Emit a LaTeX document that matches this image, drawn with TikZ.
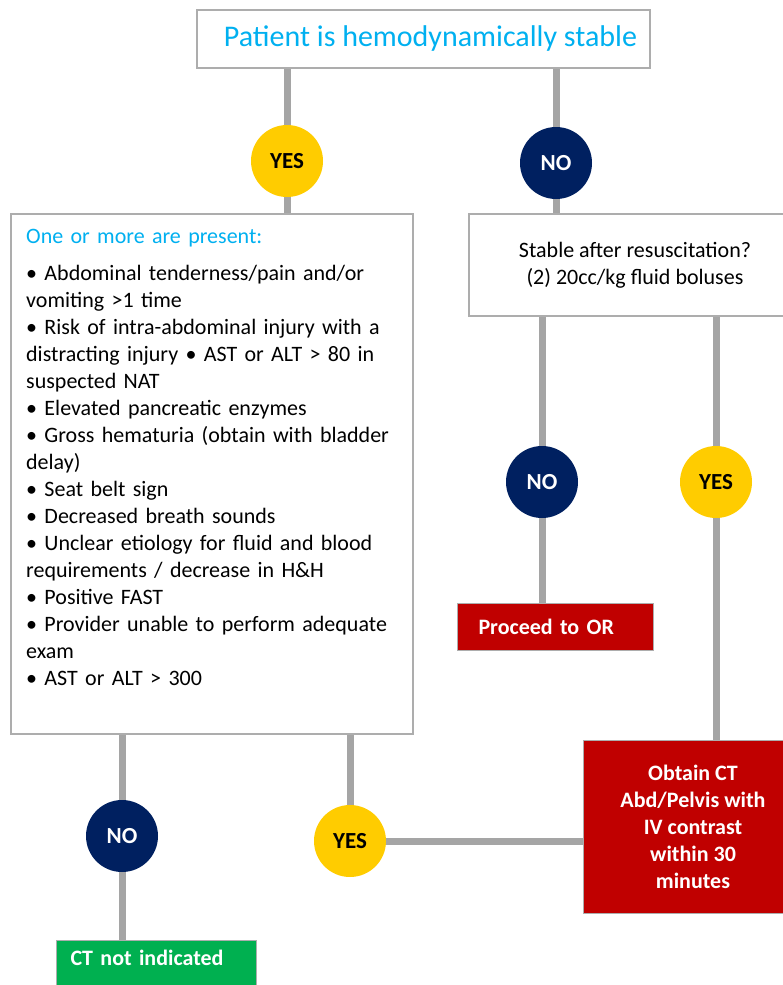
\documentclass[tikz,border=0pt]{standalone}
\usepackage{fontspec}
\setmainfont{Carlito}
\usepackage{tikz}
\usetikzlibrary{backgrounds}
\definecolor{linkgray}{HTML}{A5A5A5}
\definecolor{boxgray}{HTML}{ADADAD}
\definecolor{titlecyan}{HTML}{00B0F0}
\definecolor{yesyellow}{HTML}{FFCC00}
\definecolor{nonavy}{HTML}{002060}
\definecolor{ctred}{HTML}{C00000}
\definecolor{ctgreen}{HTML}{00B050}

\begin{document}
\begin{tikzpicture}[x=1pt,y=-1pt,font=\fontsize{22}{27}\selectfont,
    box/.style={draw=boxgray,line width=1.5pt,fill=white,inner sep=0pt},
    yes/.style={circle,fill=yesyellow,minimum size=72pt,inner sep=0pt,font=\fontsize{23}{27}\selectfont\bfseries},
    no/.style={circle,fill=nonavy,text=white,minimum size=72pt,inner sep=0pt,font=\fontsize{23}{27}\selectfont\bfseries},
    redbox/.style={draw=boxgray,line width=1pt,fill=ctred,text=white,font=\fontsize{22}{27}\selectfont\bfseries},
    link/.style={linkgray,line width=7pt}]
          \useasboundingbox (0,0) rectangle (782,985);
          \node[box,minimum width=453pt,minimum height=58pt,text=titlecyan,font=\fontsize{30}{36}\selectfont] (top) at (423.5,39) {\hspace*{14pt}Patient is hemodynamically stable};
          \node[yes] (yes1) at (287,161) {YES};
          \node[no] (no1) at (556,163) {NO};
          \node[box,minimum width=402pt,minimum height=520pt] (list) at (212,474) {};
          \node[anchor=north west,align=left,text width=385pt,inner sep=0pt] (items) at (26,224) {\textcolor{titlecyan}{\strut One or more are present:}\\[10pt]
            • Abdominal tenderness/pain and/or\\
            vomiting >1 time\\
            • Risk of intra-abdominal injury with a\\
            distracting injury • AST or ALT > 80 in\\
            suspected NAT\\
            • Elevated pancreatic enzymes\\
            • Gross hematuria (obtain with bladder\\
            delay)\\
            • Seat belt sign\\
            • Decreased breath sounds\\
            • Unclear etiology for fluid and blood\\
            requirements / decrease in H\&H\\
            • Positive FAST\\
            • Provider unable to perform adequate\\
            exam\\
            • AST or ALT > 300};
          \node[box,minimum width=332pt,minimum height=102pt,align=center] (stable) at (635,265) {Stable after resuscitation?\\(2) 20cc/kg fluid boluses};
          \node[no] (no2) at (542,482) {NO};
          \node[yes] (yes2) at (716,482) {YES};
          \node[redbox,anchor=north west,minimum height=47pt,inner xsep=21pt,text width=154pt,align=left] (proceed) at (457,603) {Proceed to OR};
          \node[redbox,minimum width=220pt,minimum height=173pt,align=center] (obtain) at (693,826.5) {Obtain CT\\Abd/Pelvis with\\IV contrast\\within 30\\minutes};
          \node[no] (no3) at (122,836) {NO};
          \node[yes] (yes3) at (350,841) {YES};
          \node[redbox,fill=ctgreen,anchor=north west,inner xsep=14pt,inner ysep=0pt,text width=172pt,align=left,text height=25pt,text depth=30pt] (ctno) at (56,940) {CT not indicated};
          \begin{pgfonlayer}{background}
            \draw[link] (top.south -| yes1) -- (yes1 |- list.north);
            \draw[link] (top.south -| no1) -- (no1 |- stable.north);
            \draw[link] (stable.south -| no2) -- (no2 |- proceed.north);
            \draw[link] (stable.south -| yes2) -- (yes2 |- obtain.north);
            \draw[link] (list.south -| no3) -- (no3 |- ctno.north);
            \draw[link] (list.south -| yes3) -- (yes3.center) -- (yes3 -| obtain.west);
          \end{pgfonlayer}
        \end{tikzpicture}
\end{document}
